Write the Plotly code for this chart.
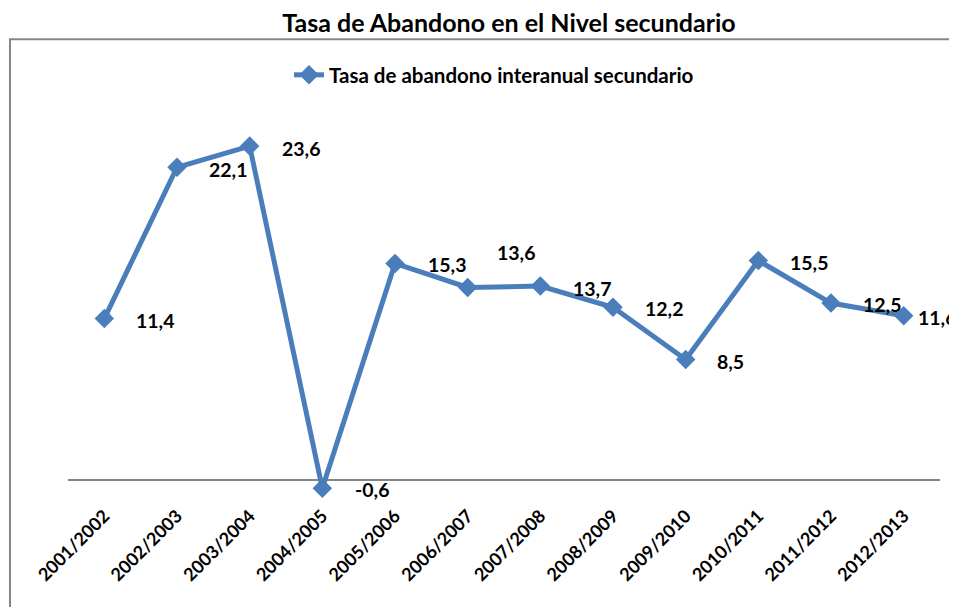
import plotly.graph_objects as go

categories = ["2001/2002", "2002/2003", "2003/2004", "2004/2005", "2005/2006", "2006/2007",
              "2007/2008", "2008/2009", "2009/2010", "2010/2011", "2011/2012", "2012/2013"]
values = [11.4, 22.1, 23.6, -0.6, 15.3, 13.6, 13.7, 12.2, 8.5, 15.5, 12.5, 11.6]
series_name = "Tasa de abandono interanual secundario"
title_text = "Tasa de Abandono en el Nivel secundario"

# label offsets (pixels) - style only
label_dx = [30, 30, 30, 31, 31, 27, 31, 30, 29, 30, 30, 12]
label_dy = [-2, -2, -2, -1, -1, 35, -2, -1, -2, -2, -1, -2]

color = "#4A7EBB"
font_family = "Lato, 'Open Sans', sans-serif"

W, H = 949, 599  # page body adds an 8px margin

fig = go.Figure()
fig.add_trace(go.Scatter(
    x=categories, y=values, mode="lines+markers", name=f"<b>{series_name}</b>",
    line=dict(color=color, width=5),
    marker=dict(symbol="diamond", size=15, color=color),
    showlegend=True,
))

for c, v, dx, dy in zip(categories, values, label_dx, label_dy):
    fig.add_annotation(
        x=c, y=v, xref="x", yref="y",
        text=f"<b>{v:.1f}</b>".replace(".", ","),
        showarrow=False, xanchor="left", yanchor="middle",
        xshift=dx, yshift=dy,
        font=dict(family=font_family, size=19.5, color="#000000"),
    )

# outer chart border
fig.add_shape(type="rect", xref="paper", yref="paper",
              x0=-0.0665, x1=1.2, y0=-0.6, y1=1.146,
              line=dict(color="#868686", width=2), fillcolor="rgba(0,0,0,0)", layer="below")

fig.update_layout(
    width=W, height=H,
    margin=dict(l=60, r=17, t=90, b=106, autoexpand=False),
    paper_bgcolor="white", plot_bgcolor="white",
    title=dict(text=f"<b>{title_text}</b>", x=501 / W, xref="container", xanchor="center",
               y=1 - 15 / H, yref="container", yanchor="middle",
               font=dict(family=font_family, size=25, color="#000000")),
    legend=dict(orientation="h", x=486 / W, y=1 - 67 / H, xref="container", yref="container",
                xanchor="center", yanchor="middle",
                font=dict(family=font_family, size=20.5, color="#000000"),
                bgcolor="rgba(0,0,0,0)"),
    showlegend=True,
    xaxis=dict(type="category", range=[-0.5, 11.5], showgrid=False, showline=False,
               ticks="", tickangle=-45, automargin=False,
               tickfont=dict(family=font_family, size=18, color="#000000", weight="bold")),
    yaxis=dict(range=[-1.5, 27], showgrid=False, showticklabels=False, ticks="", automargin=False,
               zeroline=True, zerolinecolor="#868686", zerolinewidth=2, showline=False),
)

fig.write_html("out.html")
